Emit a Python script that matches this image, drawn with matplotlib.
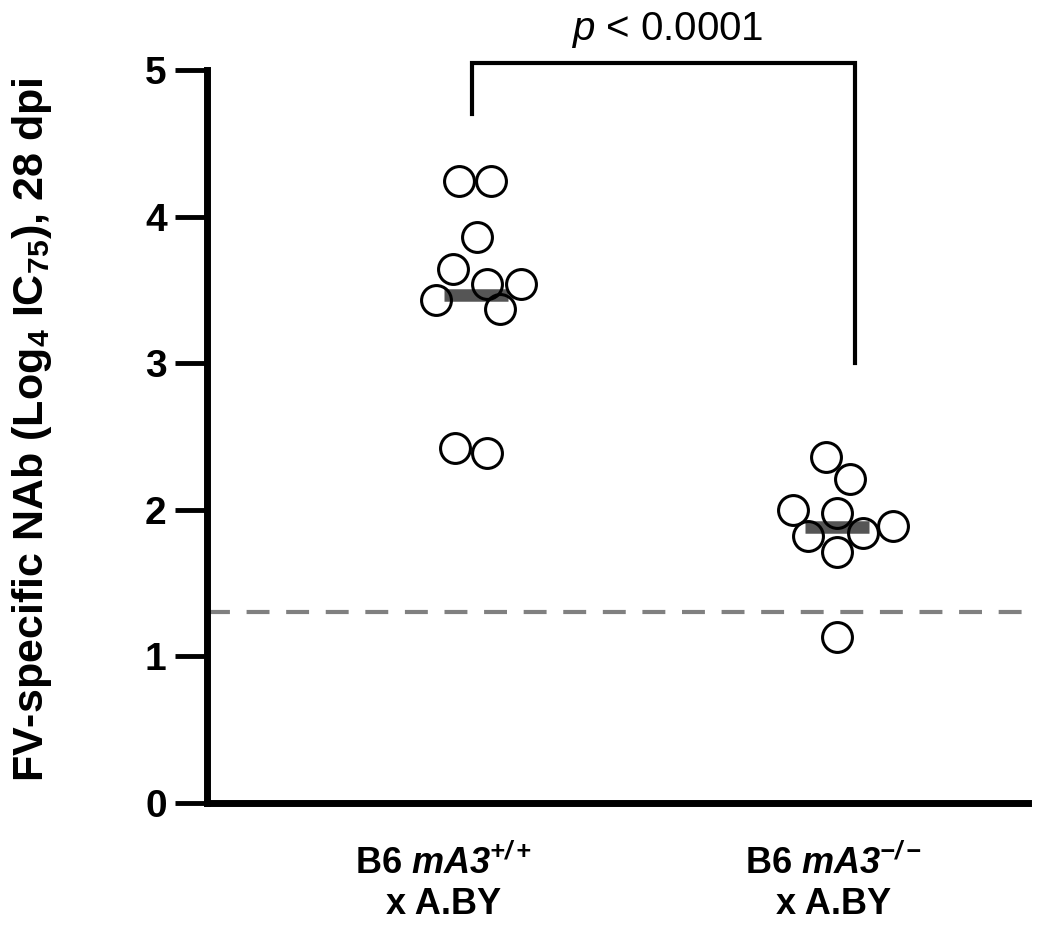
import numpy as np
import matplotlib
matplotlib.use('Agg')
import matplotlib.pyplot as plt

# fonts: Arial-like everywhere, math pieces kept in the same family
plt.rcParams['font.family'] = ['Liberation Sans', 'DejaVu Sans']
plt.rcParams['mathtext.fontset'] = 'custom'
plt.rcParams['mathtext.rm'] = 'Liberation Sans'
plt.rcParams['mathtext.it'] = 'Liberation Sans:italic'
plt.rcParams['mathtext.bf'] = 'Liberation Sans:bold'
plt.rcParams['mathtext.bfit'] = 'Liberation Sans:italic:bold'

# Data (Log4 IC75 per mouse)
groups = ['B6 $\\mathbfit{mA3}^{\\mathbfit{+/+}}$\nx A.BY',
          'B6 $\\mathbfit{mA3}^{\\mathbfit{-/-}}$\nx A.BY']
wt_values = [4.24, 4.24, 3.86, 3.64, 3.54, 3.54, 3.43, 3.37, 2.42, 2.39]
ko_values = [2.36, 2.21, 2.00, 1.98, 1.89, 1.82, 1.84, 1.71, 1.13]
detection_limit = 1.3
p_text = '$\\mathit{p}$ < 0.0001'

# horizontal scatter of the points inside each column (layout only)
wt_jitter = [-0.047, 0.042, 0.003, -0.064, 0.030, 0.125, -0.111, 0.066, -0.058, 0.030]
ko_jitter = [-0.030, 0.036, -0.122, 0.0, 0.155, -0.080, 0.072, 0.0, 0.0]

fig = plt.figure(figsize=(10.5, 9.49), dpi=100)
ax = fig.add_axes([207 / 1050, 1 - 803 / 949, (1028 - 207) / 1050, (803 - 70) / 949])

# mean bars, then hollow circles on top
for pos, vals, jit in [(1, wt_values, wt_jitter), (2, ko_values, ko_jitter)]:
    m = np.mean(vals)
    ax.plot([pos - 0.088, pos + 0.088], [m, m], color='#555555', lw=9,
            solid_capstyle='butt', zorder=2)
    ax.plot(pos + np.array(jit), vals, 'o', ms=21.5, mfc='none', mec='black',
            mew=2.2, zorder=3, clip_on=False)

# limit of detection
ax.axhline(detection_limit, color='#808080', lw=3, ls=(0, (5.5, 4)), zorder=1)

# significance bracket
ax.plot([0.99, 0.99, 2.05, 2.05], [4.7, 5.05, 5.05, 3.0], color='black', lw=3,
        clip_on=False, solid_joinstyle='miter')
ax.text(1.53, 5.27, p_text, ha='center', va='center', fontsize=29)

ax.set_xlim(0.255, 2.529)
ax.set_ylim(0, 5)
ax.set_yticks([0, 1, 2, 3, 4, 5])
ax.tick_params(axis='y', length=23, width=3.5, pad=6, labelsize=28)
for lab in ax.get_yticklabels():
    lab.set_fontweight('bold')
ax.set_xticks([0.91, 1.99])
ax.set_xticklabels(groups, fontsize=26, fontweight='bold', linespacing=1.2)
ax.tick_params(axis='x', length=0, pad=30)

for s in ['top', 'right']:
    ax.spines[s].set_visible(False)
for s in ['left', 'bottom']:
    ax.spines[s].set_linewidth(5)

fig.text(32 / 1050, 1 - 430 / 949,
         'FV-specific NAb (Log$_\\mathbf{4}$ IC$_\\mathbf{75}$), 28 dpi',
         rotation=90, ha='center', va='center', fontsize=31, fontweight='bold')

fig.savefig('out.png', dpi=100)
